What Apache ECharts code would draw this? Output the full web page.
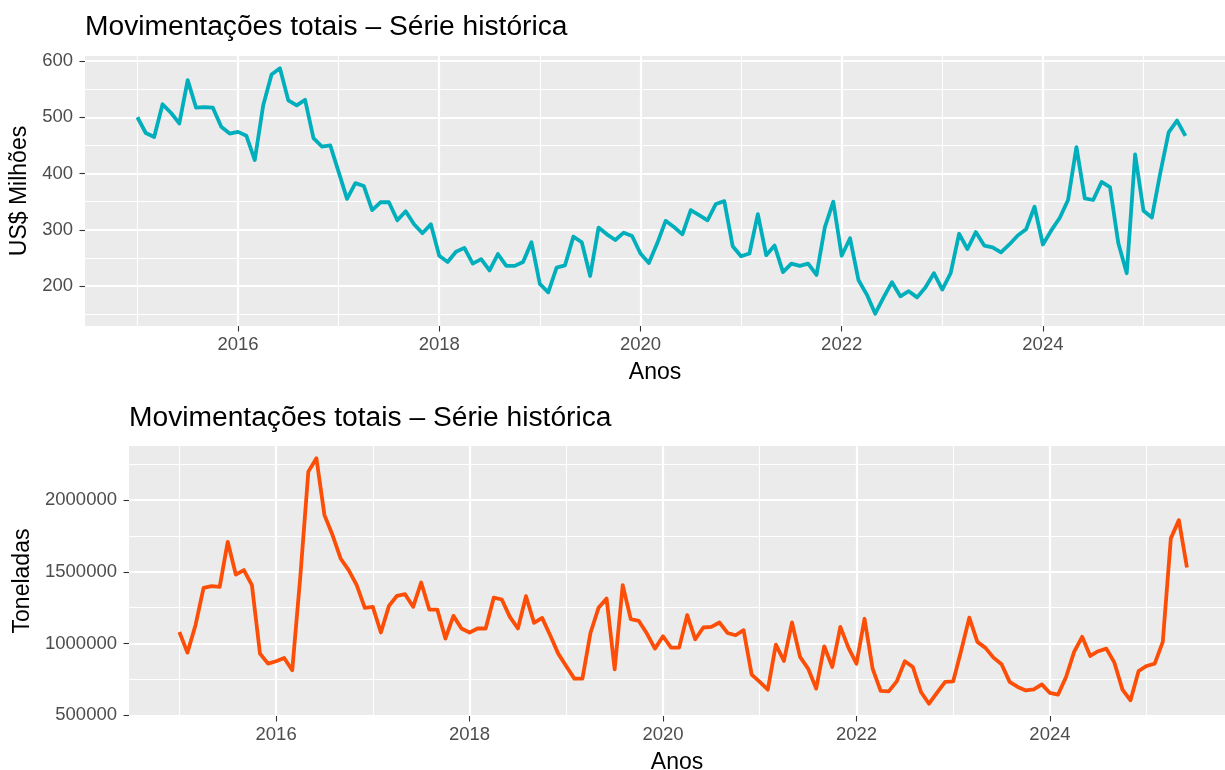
<!DOCTYPE html>
<html>
<head>
<meta charset="utf-8">
<title>Movimentações totais</title>
<script src="https://cdn.jsdelivr.net/npm/echarts@6/dist/echarts.min.js"></script>
<style>
  html, body { margin: 0; padding: 0; background: #fff; }
  #main { width: 1225px; height: 770px; }
</style>
</head>
<body>
<div id="main"></div>
<script>
// série mensal, jan/2015 em diante
const startYear = 2015;

// US$ milhões
const usd = [
  500, 472, 465, 523, 508, 489, 566, 517, 518, 517, 483, 471,
  474, 467, 424, 521, 576, 587, 530, 521, 531, 463, 448, 450,
  403, 355, 383, 378, 335, 349, 349, 317, 333, 310, 294, 310,
  254, 243, 261, 268, 240, 248, 228, 257, 236, 236, 243, 278,
  204, 189, 233, 237, 288, 278, 218, 304, 292, 282, 295, 289,
  258, 241, 276, 316, 305, 292, 335, 326, 317, 346, 351, 271,
  253, 258, 328, 255, 272, 225, 240, 236, 240, 220, 305, 350,
  254, 285, 211, 185, 151, 180, 207, 182, 191, 180, 198, 223,
  194, 223, 293, 266, 296, 272, 269, 260, 274, 290, 301, 341,
  274, 299, 321, 353, 447, 356, 353, 385, 376, 276, 223, 434,
  334, 322, 401, 473, 494, 467
];

// toneladas
const toneladas = [
  1081000, 937000, 1128000, 1388000, 1400000, 1395000, 1709000, 1481000, 1512000, 1407000, 930000, 860000,
  877000, 900000, 814000, 1465000, 2198000, 2291000, 1895000, 1756000, 1593000, 1512000, 1407000, 1249000,
  1256000, 1077000, 1263000, 1333000, 1344000, 1256000, 1426000, 1237000, 1237000, 1035000, 1193000, 1105000,
  1077000, 1105000, 1105000, 1320000, 1307000, 1186000, 1105000, 1330000, 1144000, 1179000, 1058000, 930000,
  842000, 756000, 756000, 1074000, 1249000, 1314000, 821000, 1407000, 1170000, 1158000, 1070000, 965000,
  1051000, 972000, 972000, 1198000, 1030000, 1112000, 1116000, 1147000, 1074000, 1058000, 1093000, 784000,
  733000, 679000, 993000, 879000, 1147000, 907000, 826000, 686000, 981000, 837000, 1116000, 972000,
  860000, 1173000, 826000, 670000, 667000, 737000, 877000, 837000, 663000, 581000, 658000, 733000,
  737000, 953000, 1181000, 1012000, 970000, 902000, 856000, 733000, 698000, 674000, 681000, 716000,
  656000, 644000, 767000, 942000, 1047000, 914000, 947000, 965000, 867000, 679000, 605000, 809000,
  844000, 860000, 1012000, 1733000, 1860000, 1530000
];

// marcas dos eixos
const anosMajor = [2016, 2018, 2020, 2022, 2024];
const anosMinor = [2015, 2017, 2019, 2021, 2023, 2025];
const usdMajor = [200, 300, 400, 500, 600];
const usdMinor = [150, 250, 350, 450, 550];
const tonMajor = [500000, 1000000, 1500000, 2000000];
const tonMinor = [750000, 1250000, 1750000, 2250000];

const titulo = 'Movimentações totais – Série histórica';

const FONT = '"Liberation Sans", Arial, Helvetica, sans-serif';
const COR_USD = '#00AFBB';
const COR_TON = '#FC4E07';

// eixo x em anos decimais
const anos = usd.map((_, i) => startYear + i / 12);
const xMin = startYear - 0.05 * (anos[anos.length - 1] - startYear);
const xMax = 2025.81; // painel cortado na borda direita

// expansao de 5% como no ggplot
const expande = (arr) => {
  const lo = Math.min(...arr), hi = Math.max(...arr);
  const pad = (hi - lo) * 0.05;
  return [lo - pad, hi + pad];
};
const [usdMin, usdMax] = expande(usd);
const [tonMin, tonMax] = expande(toneladas);

const tickLabel = { color: '#4D4D4D', fontSize: 18.5, fontFamily: FONT, formatter: (v) => String(v) };
const tickLine = { color: '#333333', width: 1.1 };

function eixoX(grid, major) {
  if (!major) {
    return {
      type: 'value', gridIndex: grid, position: 'bottom', min: xMin, max: xMax,
      axisLine: { show: false },
      axisTick: { show: false, customValues: anosMinor },
      axisLabel: { show: false, customValues: anosMinor },
      splitLine: { show: true, lineStyle: { color: '#FFFFFF', width: 1.1 } }
    };
  }
  return {
    type: 'value', gridIndex: grid, position: 'bottom', min: xMin, max: xMax,
    name: 'Anos', nameLocation: 'middle', nameGap: 35,
    nameTextStyle: { color: '#000', fontSize: 23, fontFamily: FONT },
    axisLine: { show: false },
    axisTick: { show: true, length: 5.5, lineStyle: tickLine, customValues: anosMajor },
    axisLabel: Object.assign({ margin: 9, customValues: anosMajor }, tickLabel),
    splitLine: { show: true, lineStyle: { color: '#FFFFFF', width: 2.2 } }
  };
}

function eixoY(grid, min, max, ticks, nome, gap) {
  if (!nome) {
    return {
      type: 'value', gridIndex: grid, position: 'left', min: min, max: max,
      axisLine: { show: false },
      axisTick: { show: false, customValues: ticks },
      axisLabel: { show: false, customValues: ticks },
      splitLine: { show: true, lineStyle: { color: '#FFFFFF', width: 1.1 } }
    };
  }
  return {
    type: 'value', gridIndex: grid, position: 'left', min: min, max: max,
    name: nome, nameLocation: 'middle', nameRotate: 90, nameGap: gap,
    nameTextStyle: { color: '#000', fontSize: 23, fontFamily: FONT },
    axisLine: { show: false },
    axisTick: { show: true, length: 5.5, lineStyle: tickLine, customValues: ticks },
    axisLabel: Object.assign({ margin: 12, customValues: ticks }, tickLabel),
    splitLine: { show: true, lineStyle: { color: '#FFFFFF', width: 2.2 } }
  };
}

const chart = echarts.init(document.getElementById('main'), null, { renderer: 'canvas' });

const option = {
  backgroundColor: '#FFFFFF',
  animation: false,
  title: [
    { text: titulo, left: 85, top: 13.5, padding: 0,
      textStyle: { fontSize: 28.2, fontWeight: 'normal', color: '#000', fontFamily: FONT } },
    { text: titulo, left: 129, top: 404, padding: 0,
      textStyle: { fontSize: 28.2, fontWeight: 'normal', color: '#000', fontFamily: FONT } }
  ],
  grid: [
    { left: 85, top: 56, right: 0, height: 270, show: true, backgroundColor: '#EBEBEB', borderWidth: 0,
      containLabel: false, outerBoundsMode: 'none' },
    { left: 129, top: 446, right: 0, height: 270, show: true, backgroundColor: '#EBEBEB', borderWidth: 0,
      containLabel: false, outerBoundsMode: 'none' }
  ],
  xAxis: [
    eixoX(0, false),
    eixoX(0, true),
    eixoX(1, false),
    eixoX(1, true)
  ],
  yAxis: [
    eixoY(0, usdMin, usdMax, usdMinor, null),
    eixoY(0, usdMin, usdMax, usdMajor, 'US$ Milhões', 48),
    eixoY(1, tonMin, tonMax, tonMinor, null),
    eixoY(1, tonMin, tonMax, tonMajor, 'Toneladas', 91)
  ],
  series: [
    {
      type: 'line', xAxisIndex: 1, yAxisIndex: 1,
      data: usd.map((v, i) => [anos[i], v]),
      showSymbol: false, symbol: 'none',
      lineStyle: { color: COR_USD, width: 3.8, join: 'round' },
      z: 5
    },
    {
      type: 'line', xAxisIndex: 3, yAxisIndex: 3,
      data: toneladas.map((v, i) => [anos[i], v]),
      showSymbol: false, symbol: 'none',
      lineStyle: { color: COR_TON, width: 3.8, join: 'round' },
      z: 5
    }
  ]
};

chart.setOption(option);
</script>
</body>
</html>
